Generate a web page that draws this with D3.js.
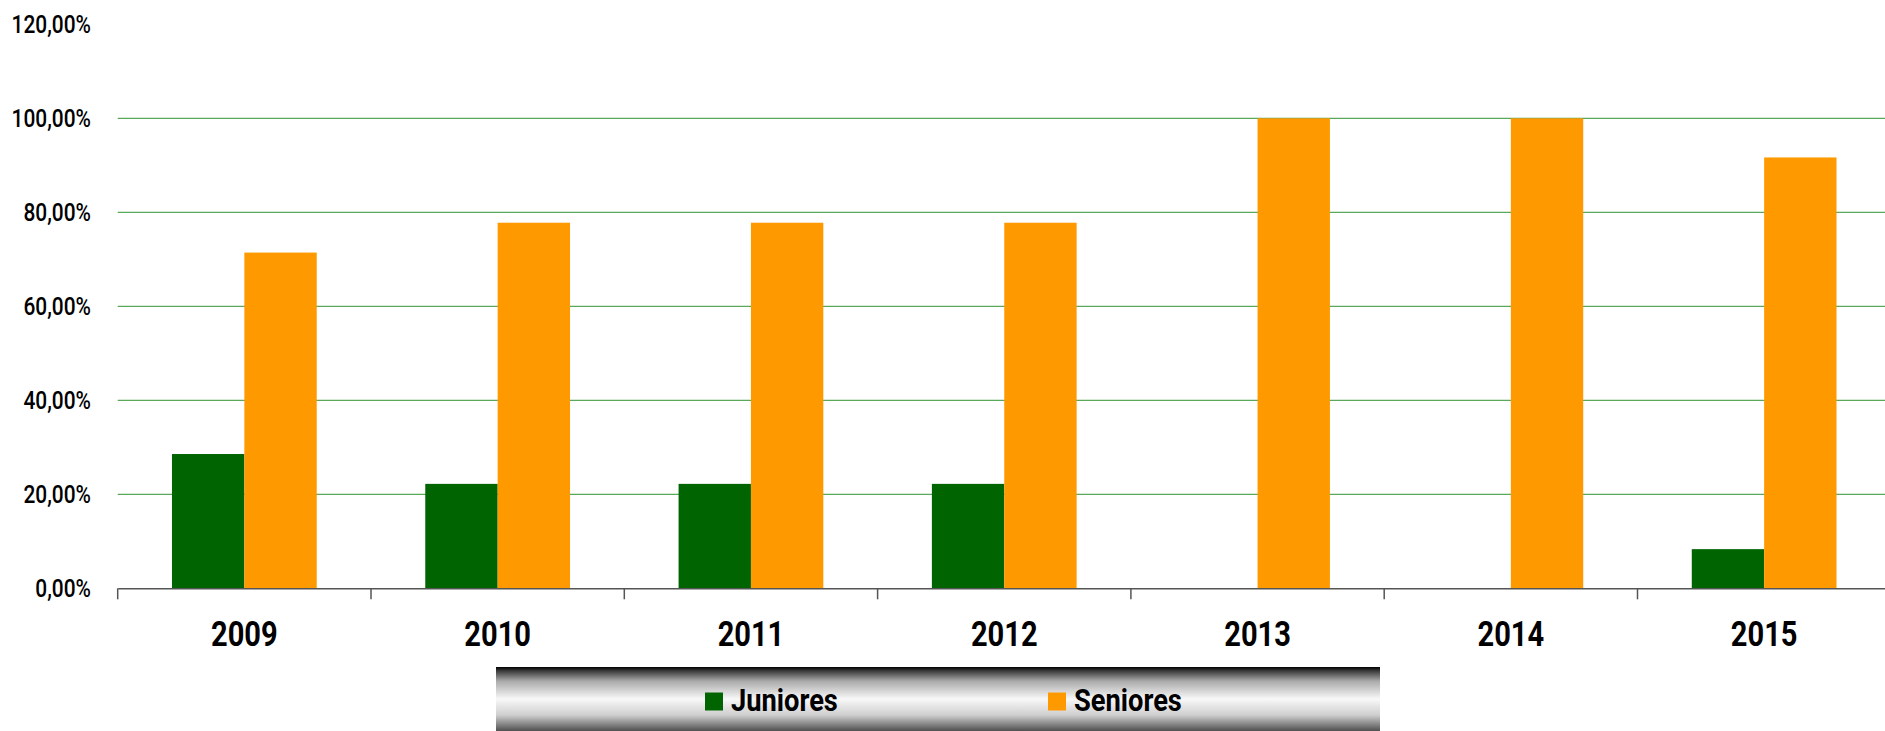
<!DOCTYPE html>
<html>
<head>
<meta charset="utf-8">
<script src="https://d3js.org/d3.v7.min.js"></script>
<style>
  body { margin: 0; background: #fff; overflow: hidden; }
  text { font-family: Roboto, "DejaVu Sans Condensed", sans-serif; fill: #000; }
</style>
</head>
<body>
<script>
// juniores vs seniores, share per year
var years = ["2009", "2010", "2011", "2012", "2013", "2014", "2015"];
var series = ["Juniores", "Seniores"];
var juniores = [28.57, 22.22, 22.22, 22.22, 0, 0, 8.33];
var seniores = [71.43, 77.78, 77.78, 77.78, 100, 100, 91.67];
var yTicks = [0, 20, 40, 60, 80, 100, 120];
var colors = ["#006400", "#ff9900"];

function draw() {
	var width = 1885;
	var height = 731;
	var left = 117.7, base = 588.3, top = 24.3, step = 253.3;

	var svg = d3.select("body").append("svg")
		.attr("width", width)
		.attr("height", height);

	var x0 = d3.scaleBand()
		.domain(years)
		.range([left, left + step * years.length])
		.padding(0);

	var x1 = d3.scaleBand()
		.domain(series)
		.range([0, x0.bandwidth()])
		.paddingInner(0)
		.paddingOuter(0.75);

	var y = d3.scaleLinear()
		.domain([0, 120])
		.range([base, top]);

	var fmt = function(v) { return d3.format(".2f")(v).replace(".", ",") + "%"; };

	// gridlines
	svg.append("g")
		.selectAll("line")
		.data(yTicks.filter(function(d) { return d > 0 && d < 120; }))
		.enter().append("line")
		.attr("x1", left)
		.attr("x2", width)
		.attr("y1", function(d) { return y(d); })
		.attr("y2", function(d) { return y(d); })
		.attr("stroke", "#5aa85a")
		.attr("stroke-width", 1.3);

	// y labels (narrowed to look condensed)
	svg.append("g")
		.selectAll("text")
		.data(yTicks)
		.enter().append("text")
		.attr("transform", function(d) { return "translate(91," + (y(d) + 9) + ") scale(0.82,1)"; })
		.attr("text-anchor", "end")
		.style("font-size", "25.5px")
		.style("font-weight", 500)
		.text(fmt);

	var rows = years.map(function(yr, i) {
		return { year: yr, values: [juniores[i], seniores[i]] };
	});

	var groups = svg.append("g")
		.selectAll("g")
		.data(rows)
		.enter().append("g")
		.attr("transform", function(d) { return "translate(" + x0(d.year) + ",0)"; });

	groups.selectAll("rect")
		.data(function(d) {
			return d.values.map(function(v, k) { return { s: series[k], v: v, k: k }; });
		})
		.enter().append("rect")
		.filter(function(d) { return d.v > 0; })
		.attr("x", function(d) { return x1(d.s); })
		.attr("width", x1.bandwidth())
		.attr("y", function(d) { return y(d.v); })
		.attr("height", function(d) { return base - y(d.v); })
		.attr("fill", function(d) { return colors[d.k]; });

	// x axis
	var xAxis = d3.axisBottom(x0).tickSize(0).tickFormat("");
	var ax = svg.append("g")
		.attr("transform", "translate(0," + base + ")")
		.call(xAxis);
	ax.select(".domain").attr("stroke", "#555").attr("stroke-width", 1.5);

	svg.append("g")
		.selectAll("line")
		.data(d3.range(years.length + 1))
		.enter().append("line")
		.attr("x1", function(d) { return left + d * step; })
		.attr("x2", function(d) { return left + d * step; })
		.attr("y1", base)
		.attr("y2", base + 11)
		.attr("stroke", "#555")
		.attr("stroke-width", 1.5);

	svg.append("g")
		.selectAll("text")
		.data(years)
		.enter().append("text")
		.attr("transform", function(d) { return "translate(" + (x0(d) + x0.bandwidth() / 2) + ",645.5) scale(0.83,1)"; })
		.attr("text-anchor", "middle")
		.style("font-size", "35px")
		.style("font-weight", "bold")
		.text(function(d) { return d; });

	// legend
	var grad = svg.append("defs").append("linearGradient")
		.attr("id", "lg")
		.attr("x1", 0).attr("y1", 0).attr("x2", 0).attr("y2", 1);
	[[0, "#000"], [0.06, "#3a3a3a"], [0.22, "#aaa"], [0.5, "#f8f8f8"], [0.75, "#cfcfcf"], [1, "#505050"]]
		.forEach(function(s) {
			grad.append("stop").attr("offset", s[0]).attr("stop-color", s[1]);
		});

	var legend = svg.append("g");
	legend.append("rect")
		.attr("x", 496)
		.attr("y", 667)
		.attr("width", 884)
		.attr("height", 64)
		.attr("fill", "url(#lg)");

	var lx = [705, 1048];
	series.forEach(function(s, k) {
		legend.append("rect")
			.attr("x", lx[k])
			.attr("y", 692.5)
			.attr("width", 18)
			.attr("height", 18)
			.attr("fill", colors[k]);
		legend.append("text")
			.attr("transform", "translate(" + (lx[k] + 26) + ",711) scale(0.88,1)")
			.style("font-size", "31px")
			.style("font-weight", "bold")
			.text(s);
	});
}
draw();
</script>
</body>
</html>
